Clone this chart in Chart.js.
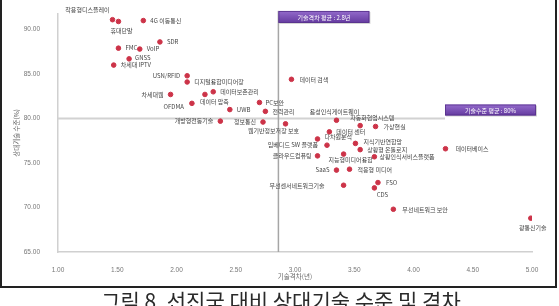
<!DOCTYPE html>
<html>
<head>
<meta charset="utf-8">
<script src="https://cdn.jsdelivr.net/npm/chart.js@4.4.1/dist/chart.umd.min.js"></script>
<style>
html, body { margin: 0; padding: 0; background: #fff; width: 559px; height: 306px; overflow: hidden; }
#wrap { position: absolute; left: 0; top: 0; width: 559px; height: 288px; }
#frame { position: absolute; left: 0; top: -3px; width: 557px; height: 291px; border: 2px solid #222; box-sizing: border-box; pointer-events: none; }
#caption { position: absolute; left: 0; top: 288px; width: 562px; text-align: center; font: 21px 'Noto Sans CJK KR', sans-serif; color: #2a2a2a; white-space: nowrap; line-height: 24px; }
</style>
</head>
<body>
<div id="wrap"><canvas id="chartCanvas"></canvas></div>
<div id="frame"></div>
<div id="caption">그림 8. 선진국 대비 상대기술 수준 및 격차</div>
<script>
// technologies, gap vs. leading country (years), relative level (%)
const techNames = [
    '착용형디스플레이', '휴대단말', '4G 이동통신', 'SDR', 'FMC', 'VoIP', 'GNSS', '차세대 IPTV',
    'USN/RFID', '디지털융합미디어장', '데이터보존관리', '데이터 압축', '차세대웹', 'OFDMA', 'UWB',
    'PC보안', '전력관리', '개방형전동기술', '정보통신', '웹기반정보저장 보호', '데이터 검색',
    '음성인식게이트웨이', '자동화협업시스템', '가상현실', '다차원분석', '임베디드 SW 플랫폼',
    '지식기반연합망', '상황형 온톨로지', '데이터베이스', '클라우드컴퓨팅', '지능형미디어융합',
    '상황인식서비스플랫폼', 'SaaS', '적응형 미디어', '무선센서네트워크기술', 'FSO', 'CDS',
    '무선네트워크 보안', '광통신기술', '데이터 센터'
];
const gapYears = [
    1.46, 1.51, 1.72, 1.86, 1.51, 1.69, 1.60, 1.47,
    2.09, 2.09, 2.31, 2.24, 1.95, 2.13, 2.45,
    2.70, 2.75, 2.37, 2.73, 2.92, 2.97,
    3.35, 3.55, 3.68, 3.19, 3.27,
    3.51, 3.55, 4.27, 3.19, 3.41,
    3.67, 3.35, 3.46, 3.41, 3.70, 3.67,
    3.83, 4.99, 3.29
];
const levelPct = [
    91.1, 90.9, 91.0, 88.6, 87.9, 87.8, 86.7, 86.0,
    84.8, 84.1, 83.0, 82.7, 82.7, 81.7, 81.0,
    81.8, 80.8, 79.7, 79.6, 79.4, 84.4,
    79.8, 79.2, 79.1, 77.7, 77.0,
    77.2, 76.5, 76.6, 75.8, 76.0,
    75.7, 74.2, 74.3, 72.5, 72.8, 72.2,
    69.8, 68.8, 78.5
];
const xTicks = [1.0, 1.5, 2.0, 2.5, 3.0, 3.5, 4.0, 4.5, 5.0];
const yTicks = [65, 70, 75, 80, 85, 90];
const gapAvg = 2.86;
const levelAvg = 80;
const gapAvgText = '기술격차 평균 : 2.8년';
const levelAvgText = '기술수준 평균 : 80%';

// where each label sits relative to its point: [dx, dy, align]
const labelPos = [
    [-3, -10, 'right'], [3, 9, 'center'], [7, 0, 'left'], [7, 0, 'left'], [7, 0, 'left'], [7, 0, 'left'], [6, -1, 'left'], [7, 0, 'left'],
    [-7, 0, 'right'], [7, 0, 'left'], [7, 0, 'left'], [-5, 7, 'left'], [-7, 0, 'right'], [-8, 3, 'right'], [7, 0, 'left'],
    [6, 0, 'left'], [7, 0, 'left'], [-7, 0, 'right'], [-7, 0, 'right'], [-12, 7, 'center'], [8, 0, 'left'],
    [-2, -9, 'center'], [-10, -8, 'left'], [8, 0, 'left'], [7, -2, 'left'], [-9, 0, 'right'],
    [8, -2, 'left'], [7, 0, 'left'], [10, 0, 'left'], [-6, 0, 'right'], [7, 6, 'center'],
    [5, 0, 'left'], [-7, 0, 'right'], [8, 0, 'left'], [-19, 0, 'right'], [8, 0, 'left'], [8, 7, 'center'],
    [9, 0, 'left'], [2, 10, 'center'], [7, 0, 'left']
];

const labelFont = "6px 'Noto Sans CJK KR', sans-serif";

function purpleBox(ctx, x, y, w, h, text) {
    const g = ctx.createLinearGradient(0, y, 0, y + h);
    g.addColorStop(0, '#946bcc');
    g.addColorStop(1, '#643a9f');
    ctx.fillStyle = 'rgba(0,0,0,0.18)';
    ctx.fillRect(x + 1, y + 1, w, h);
    ctx.fillStyle = g;
    ctx.fillRect(x, y, w, h);
    ctx.strokeStyle = '#56308a';
    ctx.lineWidth = 0.8;
    ctx.strokeRect(x + 0.5, y + 0.5, w - 1, h - 1);
    ctx.fillStyle = '#fff';
    ctx.font = "6px 'Noto Sans CJK KR', sans-serif";
    ctx.textAlign = 'center';
    ctx.textBaseline = 'middle';
    ctx.fillText(text, x + w / 2, y + h / 2 + 0.5);
}

const overlay = {
    id: 'overlay',
    beforeDatasetsDraw(chart) {
        const { ctx, chartArea, scales: { x, y } } = chart;
        const mx = x.getPixelForValue(gapAvg);
        const my = y.getPixelForValue(levelAvg);
        const box2Left = chartArea.right + 4 - 91;
        ctx.save();
        ctx.strokeStyle = '#d2d2d2';
        ctx.lineWidth = 2;
        ctx.beginPath();
        ctx.moveTo(chartArea.left, my);
        ctx.lineTo(box2Left, my);
        ctx.stroke();
        ctx.strokeStyle = '#a6a6a6';
        ctx.lineWidth = 1.5;
        ctx.beginPath();
        ctx.moveTo(mx, chartArea.top - 3);
        ctx.lineTo(mx, chartArea.bottom);
        ctx.stroke();
        ctx.restore();
    },
    afterDatasetsDraw(chart) {
        const { ctx, chartArea, scales: { x, y } } = chart;
        const mx = x.getPixelForValue(gapAvg);
        const my = y.getPixelForValue(levelAvg);
        ctx.save();
        ctx.font = labelFont;
        ctx.fillStyle = '#444';
        ctx.textBaseline = 'middle';
        techNames.forEach((name, i) => {
            const px = x.getPixelForValue(gapYears[i]);
            const py = y.getPixelForValue(levelPct[i]);
            const p = labelPos[i];
            ctx.textAlign = p[2];
            ctx.fillText(name, px + p[0], py + p[1]);
        });
        purpleBox(ctx, mx, chartArea.top - 3, 91, 12, gapAvgText);
        purpleBox(ctx, chartArea.right + 4 - 91, my - 14, 91, 11, levelAvgText);
        ctx.restore();
    }
};

const points = gapYears.map((g, i) => ({ x: g, y: levelPct[i] }));
const ctx = document.getElementById('chartCanvas').getContext('2d');

new Chart(ctx, {
    type: 'scatter',
    data: {
        datasets: [{
            label: '상대기술 수준',
            data: points,
            backgroundColor: '#cc3348',
            borderColor: '#cc3348',
            pointRadius: 2.3,
            pointHoverRadius: 2.3
        }]
    },
    options: {
        responsive: true,
        maintainAspectRatio: false,
        animation: false,
        events: [],
        layout: { padding: { top: 7, right: 27, bottom: 0, left: 0 } },
        plugins: { legend: { display: false }, tooltip: { enabled: false } },
        scales: {
            x: {
                type: 'linear',
                min: xTicks[0],
                max: xTicks[xTicks.length - 1],
                afterBuildTicks: s => { s.ticks = xTicks.map(v => ({ value: v })); },
                afterFit: s => { s.height = 36; },
                grid: { display: false },
                border: { display: true, color: '#d0d0d0', width: 1.5 },
                ticks: {
                    padding: 6,
                    color: '#777',
                    font: { size: 6.5, family: "'Liberation Sans', sans-serif" },
                    callback: v => Number(v).toFixed(2)
                },
                title: {
                    display: true,
                    text: '기술격차(년)',
                    color: '#666',
                    font: { size: 6.5, family: "'Noto Sans CJK KR', sans-serif" },
                    padding: { top: 0, bottom: 8 }
                }
            },
            y: {
                type: 'linear',
                min: yTicks[0],
                max: 91.75,
                afterBuildTicks: s => { s.ticks = yTicks.map(v => ({ value: v })); },
                afterFit: s => { s.width = 58; },
                grid: { display: false },
                border: { display: true, color: '#d0d0d0', width: 1.5 },
                ticks: {
                    padding: 10,
                    color: '#777',
                    font: { size: 6.5, family: "'Liberation Sans', sans-serif" },
                    callback: v => Number(v).toFixed(2)
                },
                title: {
                    display: true,
                    text: '상대기술 수준(%)',
                    color: '#666',
                    font: { size: 6.5, family: "'Noto Sans CJK KR', sans-serif" },
                    padding: { top: 13, bottom: 0 }
                }
            }
        }
    },
    plugins: [overlay]
});
</script>
</body>
</html>
